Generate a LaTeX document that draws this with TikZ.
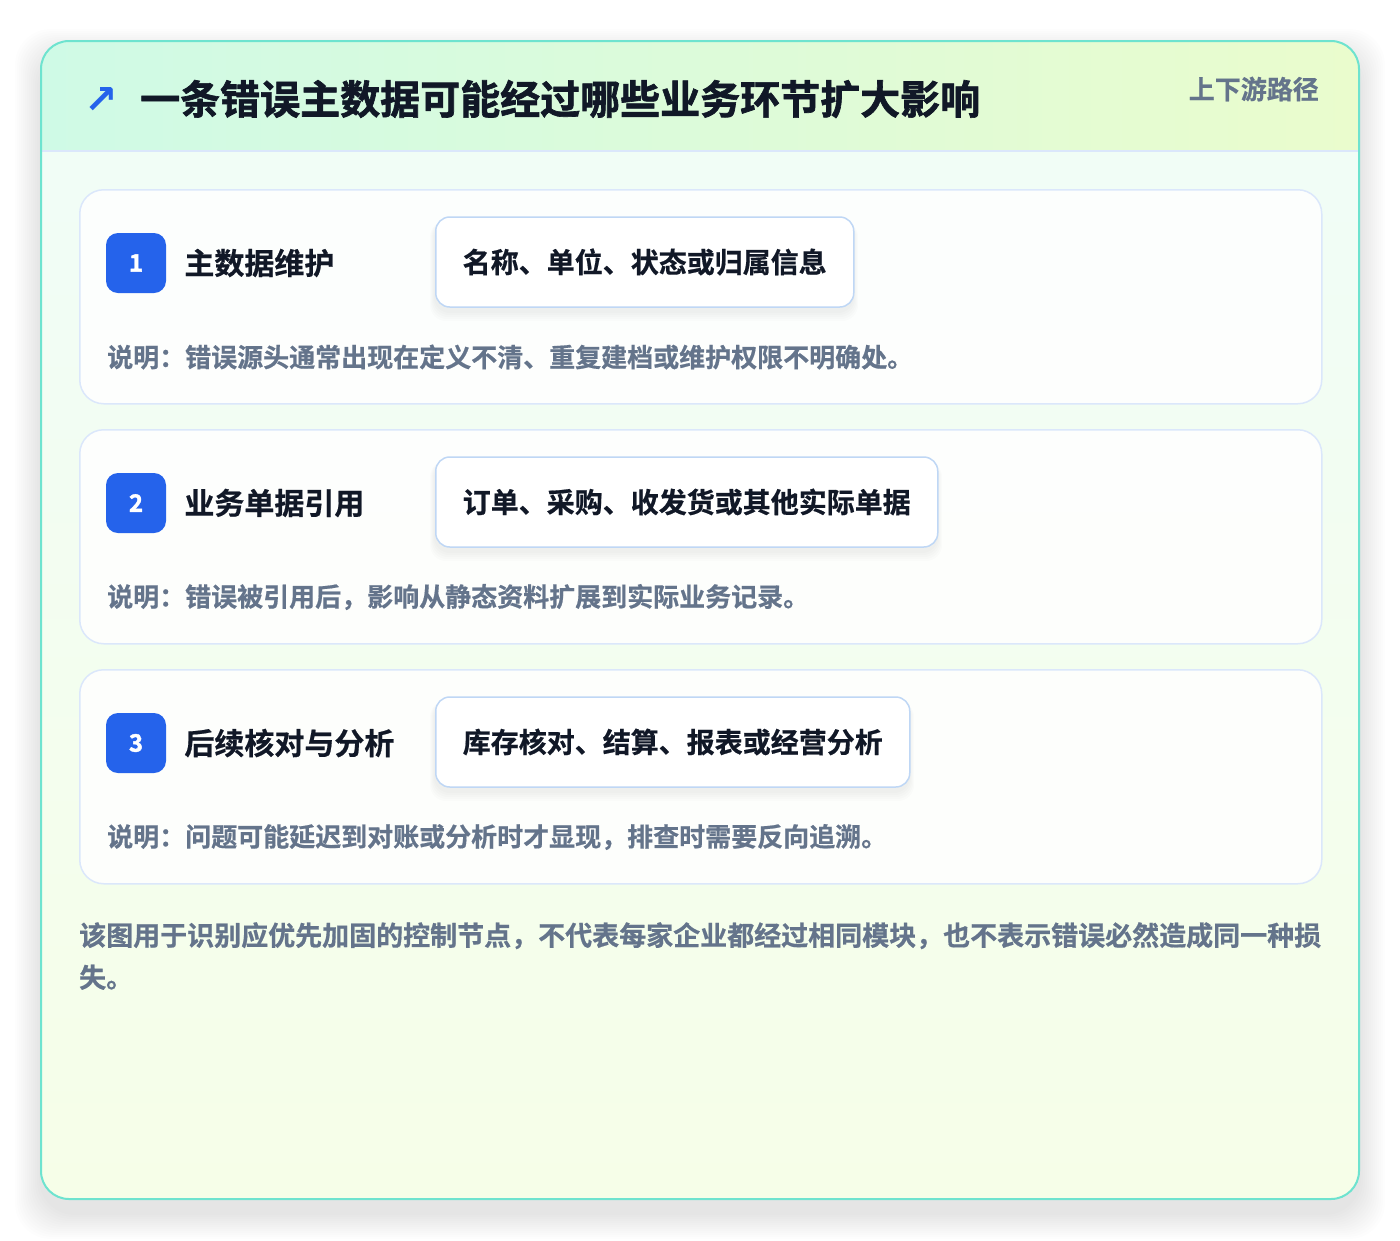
\documentclass[tikz,border=0pt]{standalone}
\usepackage{fontspec}
\setmainfont{Noto Sans CJK SC}[BoldFont={* Bold}, BoldFeatures={FakeBold=0.6}]
\newfontfamily\heavyfont{Noto Sans CJK SC Bold}[FakeBold=1.6]
\newfontfamily\symfont{DejaVu Sans Bold}
\usepackage{tikz}
\usetikzlibrary{positioning}
\definecolor{frameteal}{HTML}{6EE3CF}
\definecolor{headleft}{HTML}{CFFAE6}
\definecolor{headright}{HTML}{EAFCCD}
\definecolor{bodytop}{HTML}{F0FDF8}
\definecolor{bodybottom}{HTML}{F6FEE8}
\definecolor{cardline}{HTML}{DBE7FB}
\definecolor{chipline}{HTML}{BFD7F5}
\definecolor{badgeblue}{HTML}{2563EB}
\definecolor{inkdark}{HTML}{111827}
\definecolor{inkgrey}{HTML}{64748B}
\tikzset{x=1pt, y=-1pt, % one unit is one pixel of the reference
card/.style={ % White card of one stage
draw=cardline, line width=1.5pt,
fill=white, fill opacity=0.85,
rounded corners=24pt,
minimum width=1242pt, minimum height=214pt},
badge/.style={ % Blue number square
fill=badgeblue, rounded corners=12pt,
minimum size=60pt, text=white,
font=\heavyfont\fontsize{24}{28}\selectfont},
steptitle/.style={
text=inkdark, inner sep=0pt,
font=\bfseries\fontsize{30}{36}\selectfont},
chip/.style={ % Framed label beside the stage title
draw=chipline, line width=1.5pt,
fill=white, rounded corners=14pt,
minimum height=90pt, inner xsep=27pt,
text=inkdark,
font=\bfseries\fontsize{28}{32}\selectfont},
chipshadow/.style={ % one layer of the soft shadow under a chip
fill=black, opacity=0.012, rounded corners=16pt},
desc/.style={ % Grey explanation line
text=inkgrey, inner sep=0pt,
font=\bfseries\fontsize{26}{30}\selectfont}}

\begin{document}
\begin{tikzpicture}
	\useasboundingbox[fill=white] (0,0) rectangle (1400,1240);

	% outer frame with its shadow
	\foreach \s in {2,4,...,26}
		\fill[black, opacity=0.006, rounded corners=36pt] (41-\s,41-\s+14) rectangle (1359+\s,1199+\s+14);
	\begin{scope}
		\clip[rounded corners=28pt] (41,41) rectangle (1359,1199);
		\shade[top color=bodytop, bottom color=bodybottom] (41,41) rectangle (1359,1199);
		\shade[left color=headleft, right color=headright] (41,41) rectangle (1359,151);
		\draw[cardline, line width=1.5pt] (41,151) -- (1359,151);
	\end{scope}
	\draw[frameteal, line width=2pt, rounded corners=28pt] (41,41) rectangle (1359,1199);

	% header
	\node[anchor=west, inner sep=0pt, text=badgeblue, font=\symfont\fontsize{40}{44}\selectfont] (icon) at (84,100) {↗};
	\node[anchor=west, inner sep=0pt, text=inkdark, font=\heavyfont\fontsize{40}{48}\selectfont] (heading) at (140,99) {一条错误主数据可能经过哪些业务环节扩大影响};
	\node[anchor=east, inner sep=0pt, text=inkgrey, font=\bfseries\fontsize{26}{30}\selectfont] (tag) at (1319,89) {上下游路径};

	% stage 1
	\node[card, anchor=north west] (card1) at (79,189) {};
	\node[badge] (badge1) at (136,263) {1};
	\node[steptitle, right=18pt of badge1] (title1) {主数据维护};
	\foreach \s in {1,...,5}
		\fill[chipshadow] (435-\s,217+4) rectangle (853+\s,307+4+2*\s);
	\node[chip, anchor=west] (chip1) at (435,262) {名称、单位、状态或归属信息};
	\node[desc, anchor=west] (desc1) at (107,357) {说明：错误源头通常出现在定义不清、重复建档或维护权限不明确处。};

	% stage 2
	\node[card, anchor=north west] (card2) at (79,429) {};
	\node[badge] (badge2) at (136,503) {2};
	\node[steptitle, right=18pt of badge2] (title2) {业务单据引用};
	\foreach \s in {1,...,5}
		\fill[chipshadow] (435-\s,457+4) rectangle (937+\s,547+4+2*\s);
	\node[chip, anchor=west] (chip2) at (435,502) {订单、采购、收发货或其他实际单据};
	\node[desc, anchor=west] (desc2) at (107,597) {说明：错误被引用后，影响从静态资料扩展到实际业务记录。};

	% stage 3
	\node[card, anchor=north west] (card3) at (79,669) {};
	\node[badge] (badge3) at (136,743) {3};
	\node[steptitle, right=18pt of badge3] (title3) {后续核对与分析};
	\foreach \s in {1,...,5}
		\fill[chipshadow] (435-\s,697+4) rectangle (909+\s,787+4+2*\s);
	\node[chip, anchor=west] (chip3) at (435,742) {库存核对、结算、报表或经营分析};
	\node[desc, anchor=west] (desc3) at (107,837) {说明：问题可能延迟到对账或分析时才显现，排查时需要反向追溯。};

	% closing note
	\node[desc, anchor=north west, align=left, font=\bfseries\fontsize{27}{42}\selectfont] (note) at (79,922) {该图用于识别应优先加固的控制节点，不代表每家企业都经过相同模块，也不表示错误必然造成同一种损\\失。};
\end{tikzpicture}
\end{document}
